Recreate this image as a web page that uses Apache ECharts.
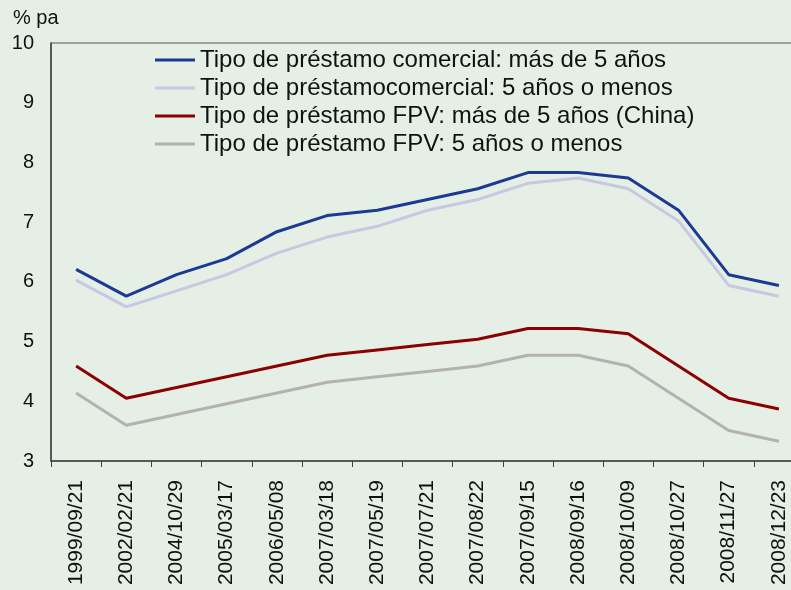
<!DOCTYPE html>
<html>
<head>
<meta charset="utf-8">
<script src="https://cdn.jsdelivr.net/npm/echarts@6/dist/echarts.min.js"></script>
<style>
  html, body { margin: 0; padding: 0; background: #E5EFE5; }
  #chart { width: 791px; height: 590px; }
</style>
</head>
<body>
<div id="chart"></div>
<script>
// fechas de los cambios de tipos
var fechas = ['1999/09/21', '2002/02/21', '2004/10/29', '2005/03/17', '2006/05/08',
  '2007/03/18', '2007/05/19', '2007/07/21', '2007/08/22', '2007/09/15',
  '2008/09/16', '2008/10/09', '2008/10/27', '2008/11/27', '2008/12/23'];

var comercialMas5 = [6.21, 5.76, 6.12, 6.39, 6.84, 7.11, 7.20, 7.38, 7.56, 7.83, 7.83, 7.74, 7.20, 6.12, 5.94];
var comercialMenos5 = [6.03, 5.58, 5.85, 6.12, 6.48, 6.75, 6.93, 7.20, 7.38, 7.65, 7.74, 7.56, 7.02, 5.94, 5.76];
var fpvMas5 = [4.59, 4.05, 4.23, 4.41, 4.59, 4.77, 4.86, 4.95, 5.04, 5.22, 5.22, 5.13, 4.59, 4.05, 3.87];
var fpvMenos5 = [4.14, 3.60, 3.78, 3.96, 4.14, 4.32, 4.41, 4.50, 4.59, 4.77, 4.77, 4.59, 4.05, 3.51, 3.33];

var nombres = ['Tipo de préstamo comercial: más de 5 años',
  'Tipo de préstamocomercial: 5 años o menos',
  'Tipo de préstamo FPV: más de 5 años (China)',
  'Tipo de préstamo FPV: 5 años o menos'];
var colores = ['#1C3A94', '#C8C8E2', '#8B0000', '#B2B2B2'];

var myChart = echarts.init(document.getElementById('chart'));

function serie(i, datos) {
  return {
    name: nombres[i],
    type: 'line',
    data: datos,
    symbol: 'none',
    lineStyle: { width: 3, color: colores[i] },
    itemStyle: { color: colores[i] },
    z: 10 - i
  };
}

var option = {
  backgroundColor: '#E5EFE5',
  animation: false,
  textStyle: { fontFamily: 'Liberation Sans, Arial, sans-serif' },
  title: {
    text: '% pa',
    left: 8,
    top: 3,
    textStyle: { fontSize: 20, fontWeight: 'normal', color: '#111' }
  },
  legend: {
    orient: 'vertical',
    left: 155,
    top: 48,
    padding: 0,
    icon: 'rect',
    itemWidth: 40,
    itemHeight: 3,
    itemGap: 4,
    textStyle: { fontSize: 24, lineHeight: 23, color: '#111', padding: [0, 0, 0, 0] },
    data: nombres
  },
  grid: {
    left: 51,
    top: 43,
    width: 753,
    height: 418,
    show: true,
    borderColor: '#555',
    borderWidth: 1,
    backgroundColor: 'transparent',
    outerBoundsMode: 'none',
    containLabel: false
  },
  xAxis: {
    type: 'category',
    data: fechas,
    boundaryGap: true,
    axisLine: { lineStyle: { color: '#404040', width: 1.5 } },
    axisTick: { show: true, length: 6, lineStyle: { color: '#404040' } },
    axisLabel: { rotate: 90, fontSize: 21, color: '#111', margin: 19, interval: 0 }
  },
  yAxis: {
    type: 'value',
    min: 3,
    max: 10,
    interval: 1,
    axisLine: { show: true, lineStyle: { color: '#404040', width: 1.5 } },
    axisTick: { show: false },
    splitLine: { show: false },
    axisLabel: { fontSize: 20, color: '#111', margin: 17 }
  },
  series: [
    serie(0, comercialMas5),
    serie(1, comercialMenos5),
    serie(2, fpvMas5),
    serie(3, fpvMenos5)
  ]
};
myChart.setOption(option);
</script>
</body>
</html>
